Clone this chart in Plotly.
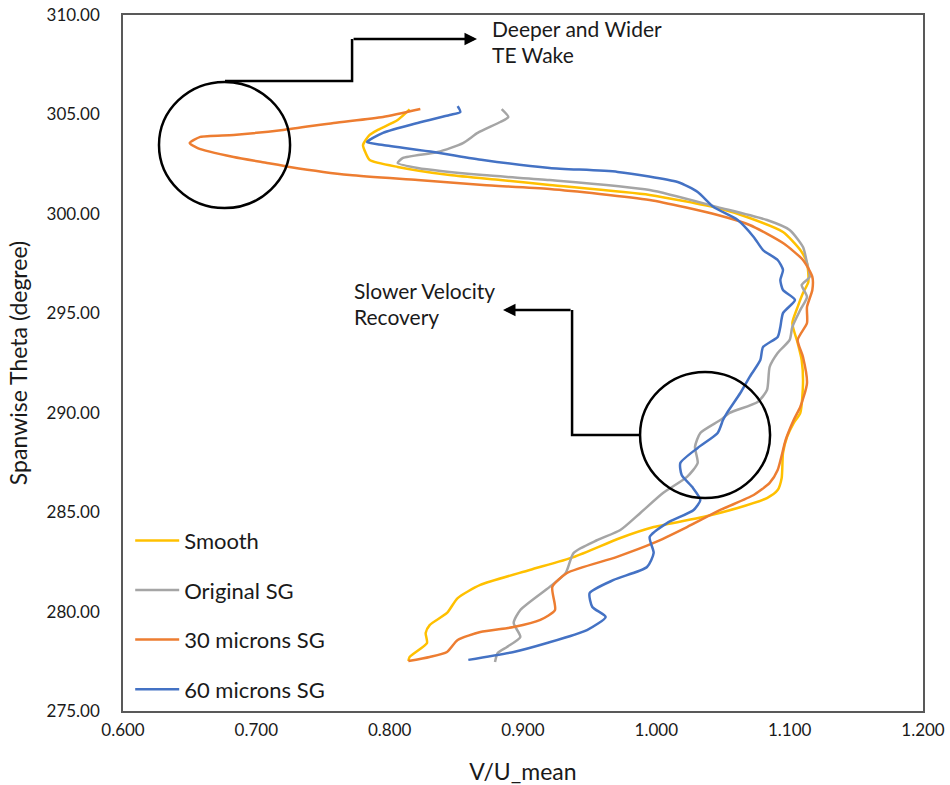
import plotly.graph_objects as go

# ---- data ----
smooth_v = [0.815, 0.806, 0.791, 0.785, 0.780, 0.782, 0.785, 0.806, 0.845, 0.883, 0.920, 0.995, 1.046,
            1.070, 1.095, 1.108, 1.113, 1.114, 1.110, 1.106, 1.102, 1.106, 1.109, 1.110, 1.108, 1.103,
            1.098, 1.095, 1.094, 1.091, 1.083, 1.061, 1.035, 0.998, 0.973, 0.938, 0.905, 0.868, 0.851,
            0.843, 0.830, 0.827, 0.828, 0.815, 0.814]
smooth_t = [305.25, 304.72, 304.22, 303.97, 303.46, 303.06, 302.71, 302.36, 301.95, 301.70, 301.45, 300.95,
            300.29, 299.79, 299.09, 298.18, 297.53, 296.57, 296.02, 295.32, 294.51, 293.51, 292.65, 291.49,
            289.99, 289.48, 288.78, 287.97, 286.72, 286.11, 285.71, 285.21, 284.76, 284.25, 283.70, 282.74,
            282.09, 281.34, 280.68, 279.93, 279.32, 278.92, 278.42, 277.72, 277.51]

orig_v = [0.884, 0.889, 0.883, 0.866, 0.855, 0.836, 0.810, 0.806, 0.821, 0.870, 0.920, 0.995, 1.046, 1.083,
          1.100, 1.110, 1.113, 1.115, 1.109, 1.113, 1.108, 1.102, 1.100, 1.091, 1.085, 1.083, 1.076, 1.055,
          1.048, 1.033, 1.029, 1.031, 1.023, 1.005, 0.988, 0.973, 0.956, 0.938, 0.932, 0.920, 0.898, 0.893,
          0.898, 0.888, 0.881, 0.879]
orig_t = [305.27, 304.87, 304.62, 304.07, 303.56, 303.11, 302.81, 302.56, 302.31, 301.95, 301.70, 301.20,
          300.34, 299.69, 299.19, 298.33, 297.53, 296.83, 296.42, 295.82, 295.17, 294.31, 293.66, 293.00,
          292.30, 291.14, 290.54, 289.99, 289.63, 288.98, 288.28, 287.47, 286.77, 285.96, 284.96, 284.10,
          283.60, 282.95, 281.94, 281.24, 280.08, 279.43, 278.72, 278.22, 277.92, 277.46]

m30_v = [0.823, 0.795, 0.758, 0.720, 0.683, 0.658, 0.650, 0.656, 0.683, 0.708, 0.725, 0.770, 0.821, 0.870,
         0.920, 0.995, 1.046, 1.070, 1.095, 1.110, 1.117, 1.117, 1.113, 1.113, 1.106, 1.110, 1.113, 1.108,
         1.103, 1.097, 1.091, 1.085, 1.073, 1.048, 1.023, 0.998, 0.970, 0.933, 0.922, 0.924, 0.913, 0.893,
         0.868, 0.851, 0.843, 0.830, 0.814]
m30_t = [305.27, 304.87, 304.57, 304.22, 303.97, 303.87, 303.56, 303.31, 302.86, 302.56, 302.36, 301.95,
         301.70, 301.45, 301.25, 300.70, 299.94, 299.44, 298.53, 297.68, 296.83, 296.17, 295.32, 294.51,
         293.66, 292.80, 291.49, 290.30, 289.63, 288.63, 287.12, 286.47, 285.86, 285.11, 284.25, 283.45,
         282.74, 281.94, 281.24, 280.08, 279.58, 279.22, 278.97, 278.57, 277.97, 277.72, 277.51]

m60_v = [0.851, 0.853, 0.845, 0.821, 0.795, 0.783, 0.795, 0.833, 0.870, 0.920, 0.971, 1.016, 1.031, 1.043,
         1.061, 1.073, 1.080, 1.091, 1.095, 1.093, 1.095, 1.104, 1.095, 1.093, 1.091, 1.080, 1.078, 1.070,
         1.063, 1.053, 1.050, 1.046, 1.031, 1.018, 1.019, 1.027, 1.033, 1.028, 1.008, 0.995, 0.998, 0.993,
         0.968, 0.950, 0.952, 0.962, 0.948, 0.918, 0.893, 0.859]
m60_t = [305.42, 305.12, 304.97, 304.57, 304.07, 303.61, 303.46, 303.11, 302.71, 302.31, 302.11, 301.60,
         301.10, 300.34, 299.69, 298.84, 298.18, 297.68, 297.18, 296.67, 296.17, 295.67, 295.01, 294.31,
         293.81, 293.30, 292.65, 291.80, 290.99, 289.99, 289.63, 288.98, 288.23, 287.47, 286.87, 286.26,
         285.61, 285.11, 284.45, 283.75, 282.95, 282.24, 281.59, 280.93, 280.23, 279.73, 279.07, 278.42,
         277.97, 277.57]

series_names = ["Smooth", "Original SG", "30 microns SG", "60 microns SG"]
series_colors = ["#FFC000", "#A5A5A5", "#ED7D31", "#4472C4"]
series_data = [(smooth_v, smooth_t), (orig_v, orig_t), (m30_v, m30_t), (m60_v, m60_t)]

x_ticks = [0.6, 0.7, 0.8, 0.9, 1.0, 1.1, 1.2]
y_ticks = [275, 280, 285, 290, 295, 300, 305, 310]

FONT = "Lato"
TXT = "#1a1a1a"

fig = go.Figure()
for name, color, (v, t) in zip(series_names, series_colors, series_data):
    fig.add_trace(go.Scatter(x=v, y=t, mode="lines", name=name, legendgroup=name,
                             line=dict(color=color, width=2.5, shape="spline", smoothing=0.6)))

shapes = [
    dict(type="circle", xref="x", yref="y", x0=0.627, x1=0.7253, y0=300.29, y1=306.63,
         line=dict(color="black", width=2.5)),
    dict(type="circle", xref="x", yref="y", x0=0.9878, x1=1.0853, y0=285.71, y1=292.05,
         line=dict(color="black", width=2.5)),
    dict(type="path", xref="x", yref="y", path="M 0.6765 306.68 L 0.7718 306.68 L 0.7718 308.79",
         line=dict(color="black", width=2.5)),
    dict(type="path", xref="x", yref="y", path="M 0.9878 288.88 L 0.9368 288.88 L 0.9368 295.17",
         line=dict(color="black", width=2.5)),
]

annotations = [
    dict(x=0.8655, y=308.79, ax=0.7718, ay=308.79, xref="x", yref="y", axref="x", ayref="y",
         showarrow=True, arrowhead=2, arrowsize=1, arrowwidth=2.5, arrowcolor="black", text=""),
    dict(x=0.885, y=295.17, ax=0.9368, ay=295.17, xref="x", yref="y", axref="x", ayref="y",
         showarrow=True, arrowhead=2, arrowsize=1, arrowwidth=2.5, arrowcolor="black", text=""),
    dict(x=0.8755, y=309.33, xref="x", yref="y", text="Deeper and Wider", showarrow=False,
         xanchor="left", yanchor="middle", font=dict(family=FONT, size=21, color=TXT)),
    dict(x=0.8755, y=308.03, xref="x", yref="y", text="TE Wake", showarrow=False,
         xanchor="left", yanchor="middle", font=dict(family=FONT, size=21, color=TXT)),
    dict(x=0.772, y=296.17, xref="x", yref="y", text="Slower Velocity", showarrow=False,
         xanchor="left", yanchor="middle", font=dict(family=FONT, size=21, color=TXT)),
    dict(x=0.772, y=294.84, xref="x", yref="y", text="Recovery", showarrow=False,
         xanchor="left", yanchor="middle", font=dict(family=FONT, size=21, color=TXT)),
]

fig.update_layout(
    width=950, height=785,
    margin=dict(l=123, r=27, t=15, b=74),
    paper_bgcolor="white", plot_bgcolor="white",
    font=dict(family=FONT, color=TXT),
    shapes=shapes, annotations=annotations,
    legend=dict(x=0.009, y=0.275, xanchor="left", yanchor="top", bgcolor="rgba(0,0,0,0)",
                font=dict(family=FONT, size=22, color=TXT), traceorder="grouped",
                tracegroupgap=18, itemwidth=44),
    xaxis=dict(range=[0.6, 1.2], tickvals=x_ticks, tickformat=".3f", showgrid=False, zeroline=False,
               showline=True, mirror=True, linecolor="#595959", linewidth=1.5, ticks="",
               automargin=False,
               tickfont=dict(family=FONT, size=17, color=TXT), ticklabelstandoff=3,
               title=dict(text="V/U_mean", font=dict(family=FONT, size=23, color=TXT), standoff=25)),
    yaxis=dict(range=[275, 310], tickvals=y_ticks, tickformat=".2f", showgrid=False, zeroline=False,
               showline=True, mirror=True, linecolor="#595959", linewidth=1.5, ticks="",
               automargin=False,
               tickfont=dict(family=FONT, size=17, color=TXT), ticklabelstandoff=18,
               title=dict(text="Spanwise Theta (degree)", font=dict(family=FONT, size=23, color=TXT),
                          standoff=12)),
)

fig.write_html("out.html")
